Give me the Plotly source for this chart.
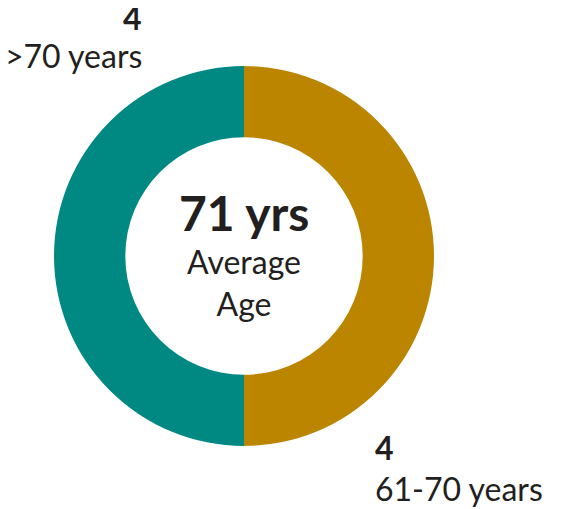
import plotly.graph_objects as go

W, H = 578, 509
OFF = 8  # page body margin pushes the plot down/right

# slices, clockwise from 12 o'clock
groups = ['61-70 years', '>70 years']
counts = [4, 4]
colors = ['#BB8500', '#008883']

avg_age = '71 yrs'
avg_label = 'Average<br>Age'

TEXT = '#231F20'
FONT = 'Lato'


def px(x, y):
    """reference pixel position -> paper coords"""
    return (x - OFF) / W, 1 - (y - OFF) / H


x0, y1 = px(54, 66)
x1, y0 = px(434, 446)

fig = go.Figure(go.Pie(
    labels=groups,
    values=counts,
    marker=dict(colors=colors, line=dict(width=0)),
    hole=0.625,
    sort=False,
    direction='clockwise',
    rotation=0,
    textinfo='none',
    hoverinfo='label+value',
    domain=dict(x=[x0, x1], y=[y0, y1]),
    showlegend=False,
))

annos = []

# centre text
x, y = px(244, 213)
annos.append(dict(x=x, y=y, text='<b>' + avg_age + '</b>', font=dict(size=48)))
x, y = px(244, 282)
annos.append(dict(x=x, y=y, text=avg_label, font=dict(size=32)))

# outer labels
x, y = px(144, 17)
annos.append(dict(x=x, y=y, xanchor='right', text='<b>%d</b>' % counts[1], font=dict(size=32)))
x, y = px(144, 56)
annos.append(dict(x=x, y=y, xanchor='right', text=groups[1], font=dict(size=32)))
x, y = px(373, 447)
annos.append(dict(x=x, y=y, xanchor='left', text='<b>%d</b>' % counts[0], font=dict(size=32)))
x, y = px(373, 488)
annos.append(dict(x=x, y=y, xanchor='left', text=groups[0], font=dict(size=32)))

for a in annos:
    a.update(xref='paper', yref='paper', showarrow=False, yanchor='middle')
    a['font'].update(family=FONT, color=TEXT)

fig.update_layout(
    width=W, height=H,
    margin=dict(l=0, r=0, t=0, b=0),
    paper_bgcolor='white',
    plot_bgcolor='white',
    annotations=annos,
)

fig.write_html("out.html")
